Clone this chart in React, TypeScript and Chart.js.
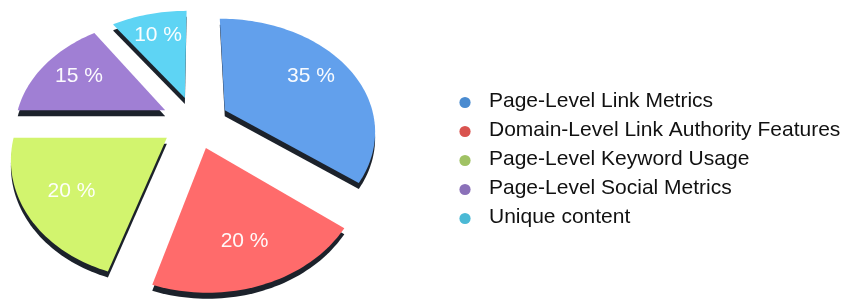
import React, { useEffect, useRef } from "react";
import { Chart, registerables } from "chart.js";

Chart.register(...registerables);

// ---- data ----
const categories = [
  "Page-Level Link Metrics",
  "Domain-Level Link Authority Features",
  "Page-Level Keyword Usage",
  "Page-Level Social Metrics",
  "Unique content",
];
const shares = [35, 20, 20, 15, 10];
const sliceColors = ["#62a0ec", "#ff6b6b", "#d2f46e", "#a07fd4", "#5ed4f4"];
const legendColors = ["#4a8bd0", "#d9534f", "#a0c264", "#8b71b9", "#4bb9d5"];

// ---- projection / styling constants ----
const CX = 195;
const CY = 122;
const TILT = 0.773;
const PERSP_X = 0.0011;
const PERSP_Y = 0.00116;
const EXPLODE = 34;
const DEPTH = 6;
const DEPTH_COLOR = "#1c222b";
const LABEL_R = 106;
const FONT = '"Liberation Sans", Arial, Helvetica, sans-serif';

function project(u: number, v: number, dy: number) {
  return {
    x: CX + u * (1 + PERSP_X * v),
    y: CY + TILT * v * (1 + PERSP_Y * v) + dy,
  };
}

// A context wrapper that lets Chart.js draw the arc while projecting every
// path point onto a tilted, perspective disc.
function makeProjectedCtx(
  real: CanvasRenderingContext2D,
  proj: (x: number, y: number) => { x: number; y: number },
  forceFill: string | null
) {
  let tx = 0;
  let ty = 0;
  const stack: number[][] = [];
  const target: any = {
    save() {
      stack.push([tx, ty]);
      real.save();
    },
    restore() {
      const s = stack.pop();
      if (s) {
        tx = s[0];
        ty = s[1];
      }
      real.restore();
    },
    translate(x: number, y: number) {
      tx += x;
      ty += y;
    },
    beginPath() {
      real.beginPath();
    },
    closePath() {
      real.closePath();
    },
    moveTo(x: number, y: number) {
      if (!isFinite(x) || !isFinite(y)) return;
      const p = proj(x + tx, y + ty);
      real.moveTo(p.x, p.y);
    },
    lineTo(x: number, y: number) {
      if (!isFinite(x) || !isFinite(y)) return;
      const p = proj(x + tx, y + ty);
      real.lineTo(p.x, p.y);
    },
    arc(x: number, y: number, r: number, a0: number, a1: number, ccw?: boolean) {
      if (![x, y, r, a0, a1].every((n) => isFinite(n))) return;
      let sweep = a1 - a0;
      const TAU = Math.PI * 2;
      if (!ccw) {
        if (sweep >= TAU) sweep = TAU;
        else while (sweep < 0) sweep += TAU;
      } else {
        if (sweep <= -TAU) sweep = -TAU;
        else while (sweep > 0) sweep -= TAU;
      }
      const steps = Math.max(2, Math.ceil(Math.abs(sweep) / (Math.PI / 120)));
      for (let i = 0; i <= steps; i++) {
        const a = a0 + (sweep * i) / steps;
        const p = proj(x + r * Math.cos(a) + tx, y + r * Math.sin(a) + ty);
        real.lineTo(p.x, p.y);
      }
    },
    fill() {
      real.fill();
    },
    stroke() {
      real.stroke();
    },
  };
  return new Proxy(target, {
    get(t, prop) {
      if (prop in t) return t[prop];
      const v = (real as any)[prop];
      return typeof v === "function" ? v.bind(real) : v;
    },
    set(_t, prop, value) {
      if (prop === "fillStyle" && forceFill) {
        real.fillStyle = forceFill;
      } else {
        (real as any)[prop] = value;
      }
      return true;
    },
  });
}

const perspectivePie = {
  id: "perspectivePie",
  beforeDatasetsDraw(chart: any) {
    const ctx: CanvasRenderingContext2D = chart.ctx;
    const meta = chart.getDatasetMeta(0);
    const els = meta.data;

    const drawPass = (dy: number, fill: string | null) => {
      els.forEach((el: any) => {
        const h = (el.startAngle + el.endAngle) / 2;
        const ox = Math.cos(h) * EXPLODE;
        const oy = Math.sin(h) * EXPLODE;
        const proj = (x: number, y: number) => project(x - el.x + ox, y - el.y + oy, dy);
        el.draw(makeProjectedCtx(ctx, proj, fill));
      });
    };
    drawPass(DEPTH, DEPTH_COLOR);
    drawPass(0, null);

    // percentage labels
    ctx.save();
    ctx.font = `21px ${FONT}`;
    ctx.fillStyle = "rgba(255,255,255,0.96)";
    ctx.textAlign = "center";
    ctx.textBaseline = "middle";
    els.forEach((el: any, i: number) => {
      const h = (el.startAngle + el.endAngle) / 2;
      const d = EXPLODE + LABEL_R;
      const p = project(Math.cos(h) * d, Math.sin(h) * d, 0);
      ctx.fillText(`${shares[i]} %`, p.x, p.y);
    });
    ctx.restore();
    return false;
  },
  afterDraw(chart: any) {
    const ctx: CanvasRenderingContext2D = chart.ctx;
    ctx.save();
    ctx.font = `21px ${FONT}`;
    ctx.textAlign = "left";
    ctx.textBaseline = "middle";
    categories.forEach((label, i) => {
      const y = 101.5 + i * 29;
      ctx.beginPath();
      ctx.fillStyle = legendColors[i];
      ctx.arc(465, y + 1, 5.6, 0, Math.PI * 2);
      ctx.fill();
      ctx.fillStyle = "#111111";
      ctx.fillText(label, 489, y);
    });
    ctx.restore();
  },
};

export default function App() {
  const ref = useRef<HTMLCanvasElement | null>(null);
  useEffect(() => {
    if (!ref.current) return;
    const chart = new Chart(ref.current, {
      type: "pie",
      data: {
        labels: categories,
        datasets: [
          {
            data: shares,
            backgroundColor: sliceColors,
            borderWidth: 0,
            offset: 0,
          },
        ],
      },
      options: {
        animation: false,
        responsive: false,
        devicePixelRatio: 1,
        radius: 150,
        plugins: {
          legend: { display: false },
          tooltip: { enabled: false },
        },
      } as any,
      plugins: [perspectivePie as any],
    });
    return () => chart.destroy();
  }, []);
  return (
    <div style={{ position: "fixed", left: 0, top: 0, width: 850, height: 299, background: "#fff" }}>
      <canvas ref={ref} width={850} height={299} style={{ display: "block" }} />
    </div>
  );
}
